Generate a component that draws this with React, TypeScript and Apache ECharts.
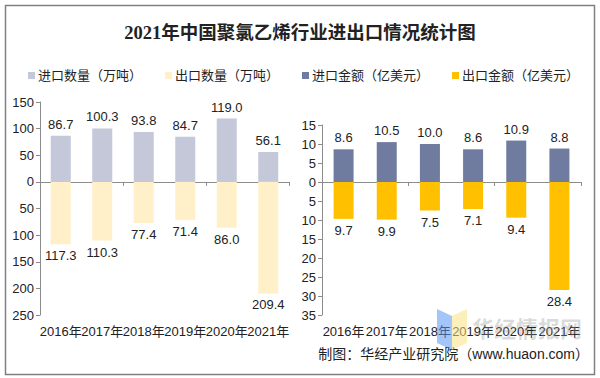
import React, { useEffect, useRef } from "react";
import * as echarts from "echarts";

const years = ["2016年", "2017年", "2018年", "2019年", "2020年", "2021年"];
const importQty = [86.7, 100.3, 93.8, 84.7, 119.0, 56.1];
const exportQty = [117.3, 110.3, 77.4, 71.4, 86.0, 209.4];
const importVal = [8.6, 10.5, 10.0, 8.6, 10.9, 8.8];
const exportVal = [9.7, 9.9, 7.5, 7.1, 9.4, 28.4];

const titleText = "2021年中国聚氯乙烯行业进出口情况统计图";
const sourceText = "制图：华经产业研究院（www.huaon.com）";
const watermarkText = "华经情报网";

const FONT = "'Liberation Sans', 'Noto Sans CJK SC', sans-serif";
const TXT = "#222";
const AXIS = "#8c8c8c";

export default function App() {
  const ref = useRef<HTMLDivElement>(null);
  useEffect(() => {
    if (!ref.current) return;
    const chart = echarts.init(ref.current, null, { renderer: "svg" });
    const abs1 = (v: any) => Math.abs(Number(v)).toFixed(1);
    const absTick = (v: any) => String(Math.abs(Number(v)));

    const catAxisLine = (gridIndex: number) => ({
      type: "category",
      gridIndex,
      data: years,
      position: "bottom",
      axisLine: { show: true, onZero: true, lineStyle: { color: AXIS, width: 1 } },
      axisTick: { show: true, length: 4, lineStyle: { color: AXIS } },
      axisLabel: { show: false },
    });
    const catAxisLabel = (gridIndex: number) => ({
      type: "category",
      gridIndex,
      data: years,
      position: "bottom",
      axisLine: { show: false, onZero: false },
      axisTick: { show: false },
      axisLabel: { show: true, interval: 0, margin: 10, color: TXT, fontSize: 13, fontFamily: FONT },
    });
    const valAxis = (gridIndex: number, min: number, max: number, interval: number) => ({
      type: "value",
      gridIndex,
      min,
      max,
      interval,
      axisLine: { show: true, lineStyle: { color: AXIS, width: 1 } },
      axisTick: { show: true, length: 4, lineStyle: { color: AXIS } },
      splitLine: { show: false },
      axisLabel: { color: TXT, fontSize: 13, fontFamily: FONT, margin: 6, formatter: absTick },
    });

    const labelTop = {
      show: true,
      position: "top",
      distance: 5,
      color: TXT,
      fontSize: 13,
      fontFamily: FONT,
      formatter: (p: any) => abs1(p.value),
    };
    const labelBottom = { ...labelTop, position: "bottom" };

    chart.setOption({
      animation: false,
      backgroundColor: "#ffffff",
      title: {
        text: titleText,
        left: "center",
        top: 19,
        textStyle: {
          fontFamily: "'Liberation Serif', 'Noto Sans CJK SC', serif",
          fontWeight: "bold",
          fontSize: 18.5,
          color: "#222",
        },
      },
      legend: {
        top: 64,
        left: 23,
        itemWidth: 7,
        itemHeight: 7,
        itemGap: 23,
        icon: "rect",
        textStyle: { fontSize: 13, color: TXT, fontFamily: FONT, padding: [0, 0, 0, -2] },
        data: ["进口数量（万吨）", "出口数量（万吨）", "进口金额（亿美元）", "出口金额（亿美元）"],
      },
      grid: [
        { left: 40, width: 249, top: 102, height: 213 },
        { left: 322, width: 259, top: 125, height: 190 },
      ],
      xAxis: [catAxisLine(0), catAxisLabel(0), catAxisLine(1), catAxisLabel(1)],
      yAxis: [valAxis(0, -250, 150, 50), valAxis(1, -35, 15, 5)],
      series: [
        {
          name: "进口数量（万吨）",
          type: "bar",
          xAxisIndex: 0,
          yAxisIndex: 0,
          stack: "qty",
          barWidth: 20,
          itemStyle: { color: "#c4c8d9" },
          label: labelTop,
          data: importQty,
        },
        {
          name: "出口数量（万吨）",
          type: "bar",
          xAxisIndex: 0,
          yAxisIndex: 0,
          stack: "qty",
          barWidth: 20,
          itemStyle: { color: "#fff0c9" },
          label: labelBottom,
          data: exportQty.map((v) => -v),
        },
        {
          name: "进口金额（亿美元）",
          type: "bar",
          xAxisIndex: 2,
          yAxisIndex: 1,
          stack: "val",
          barWidth: 20,
          itemStyle: { color: "#6f7b9f" },
          label: labelTop,
          data: importVal,
        },
        {
          name: "出口金额（亿美元）",
          type: "bar",
          xAxisIndex: 2,
          yAxisIndex: 1,
          stack: "val",
          barWidth: 20,
          itemStyle: { color: "#ffc000" },
          label: labelBottom,
          data: exportVal.map((v) => -v),
        },
      ],
      graphic: [
        {
          type: "rect",
          shape: { x: 5.5, y: 5.5, width: 589, height: 369 },
          style: { fill: "none", stroke: "#808080", lineWidth: 1.5 },
          silent: true,
        },
        {
          type: "polygon",
          shape: { points: [[437, 309], [452, 316], [452, 350], [437, 343]] },
          style: { fill: "rgba(90,150,240,0.55)" },
          silent: true,
          z: 100,
        },
        {
          type: "polygon",
          shape: { points: [[452, 316], [467, 309], [467, 343], [452, 350]] },
          style: { fill: "rgba(250,225,130,0.55)" },
          silent: true,
          z: 100,
        },
        {
          type: "text",
          x: 472,
          y: 316,
          style: {
            text: watermarkText,
            fontSize: 22,
            fontWeight: "bold",
            fontFamily: "'Noto Sans CJK SC', sans-serif",
            fill: "rgba(150,150,150,0.35)",
          },
          silent: true,
          z: 100,
        },
        {
          type: "text",
          right: 11,
          top: 347,
          style: {
            text: sourceText,
            fontSize: 14,
            fontFamily: FONT,
            fill: TXT,
          },
          silent: true,
        },
      ],
    });
    return () => chart.dispose();
  }, []);
  return (
    <div
      ref={ref}
      style={{ position: "fixed", left: 0, top: 0, width: 600, height: 378 }}
    />
  );
}
